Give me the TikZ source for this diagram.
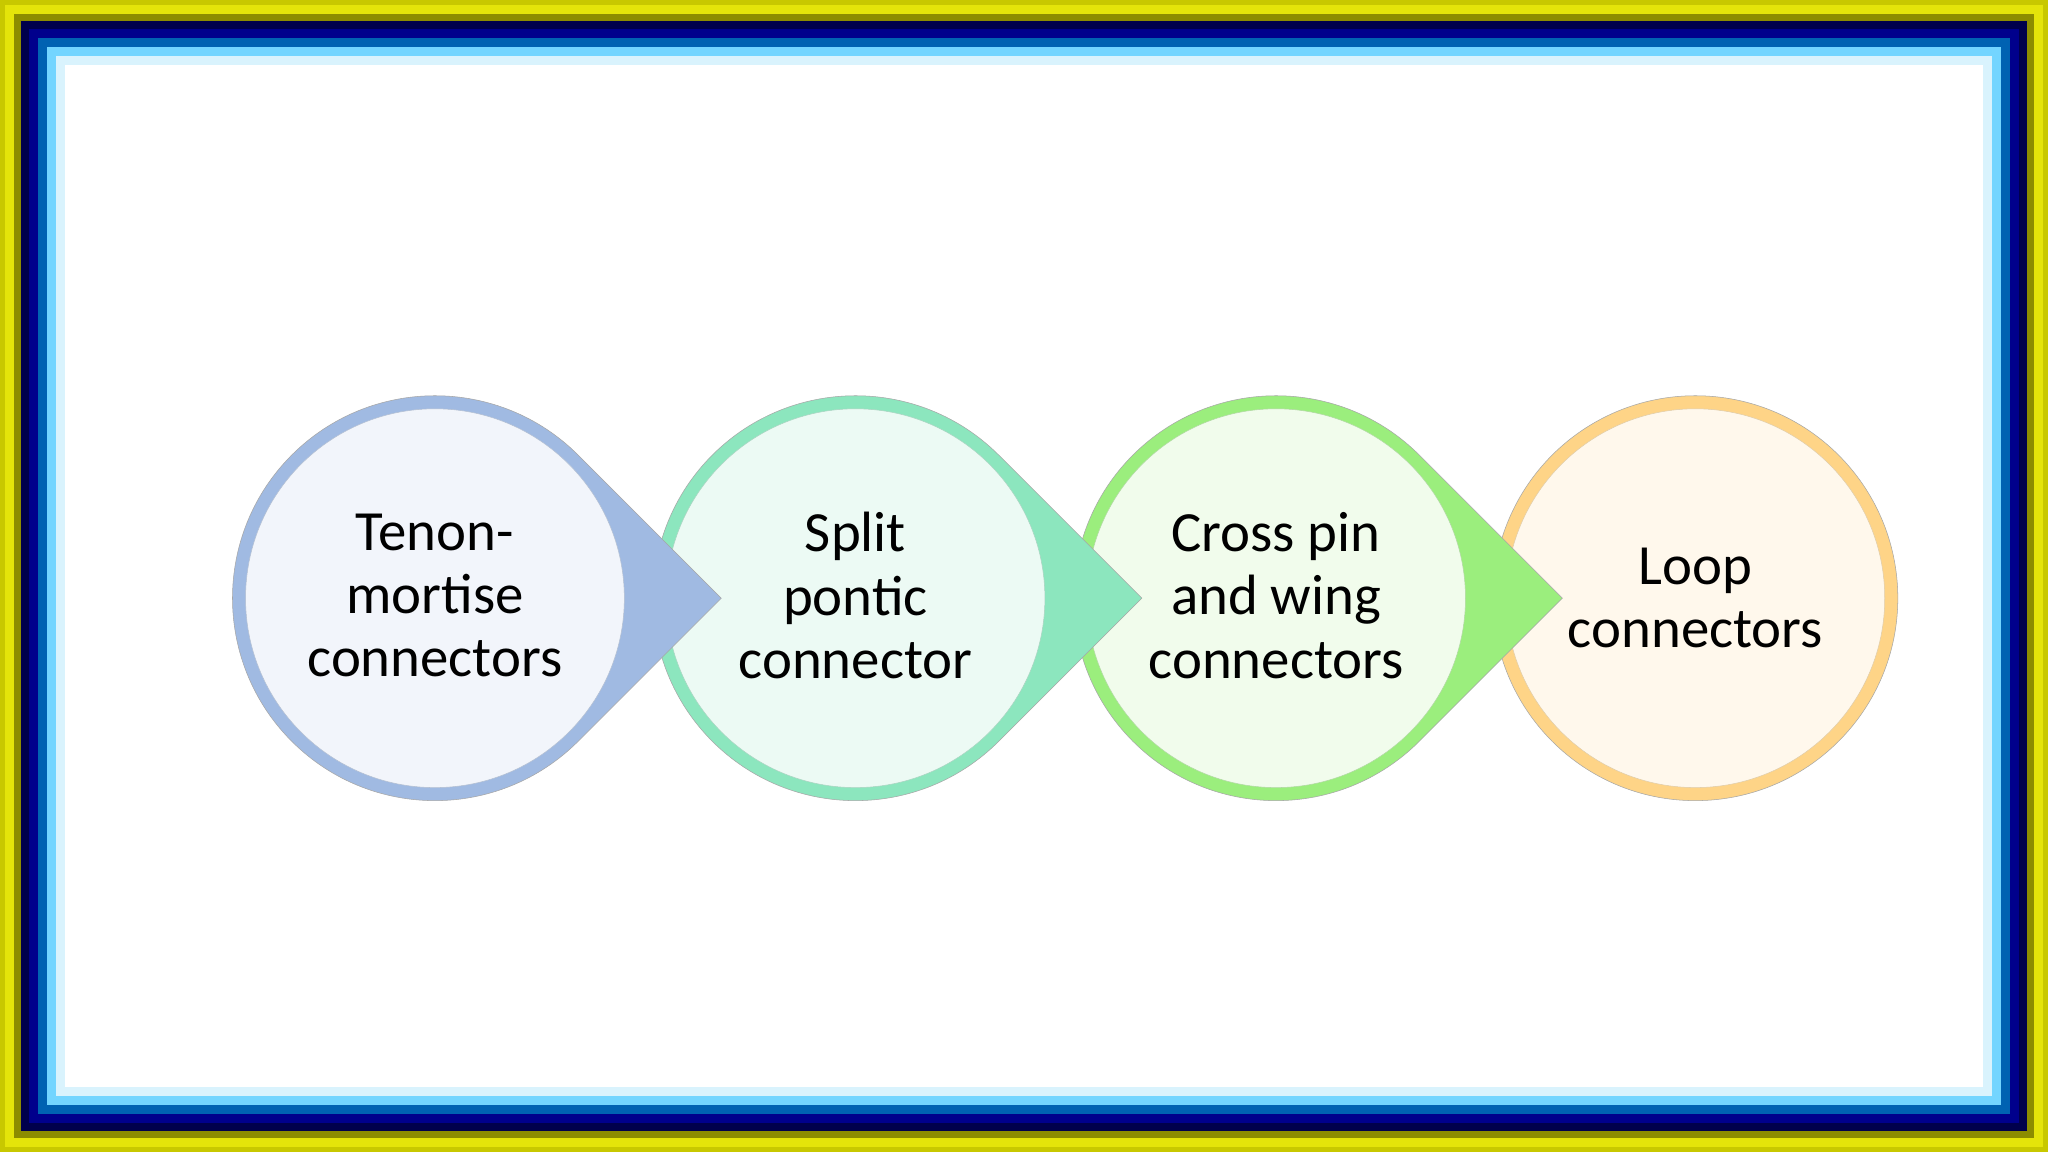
\documentclass[tikz,border=0pt]{standalone}
\usepackage{fontspec}
\setmainfont{Carlito}
\begin{document}
\begin{tikzpicture}[x=1pt,y=1pt,
  lbl/.style={align=center,font=\fontsize{43.5}{48.5}\selectfont,text=black}]
\useasboundingbox (0,0) rectangle (1568,882);
\definecolor{y1}{RGB}{200,200,0}\definecolor{y2}{RGB}{228,228,10}
\fill[y1] (0,0) rectangle (1568,882);
\fill[y2] (4,4) rectangle (1564,878);
\fill[y1!70!black] (11,11) rectangle (1557,871);
\fill[blue!30!black] (16,16) rectangle (1552,866);
\fill[blue!55!black] (22,22) rectangle (1546,860);
\fill[blue!45!cyan!70!black] (29,29) rectangle (1539,853);
\fill[blue!30!cyan!55!white] (36,36) rectangle (1532,846);
\fill[cyan!15!white] (43,43) rectangle (1525,839);
\fill[white] (50,50) rectangle (1518,832);
\definecolor{o1}{RGB}{160,186,226}\definecolor{i1}{RGB}{242,245,251}
\definecolor{o2}{RGB}{140,230,190}\definecolor{i2}{RGB}{236,250,244}
\definecolor{o3}{RGB}{155,238,125}\definecolor{i3}{RGB}{241,252,236}
\definecolor{o4}{RGB}{254,212,135}\definecolor{i4}{RGB}{255,248,236}
\def\R{155}
\filldraw[fill=o4,draw=black!35] (1298,424) circle (\R);
\filldraw[fill=i4,draw=o4!80!black!60] (1298,424) circle (145);
\node[lbl] (d) at (1298,424) {Loop\\connectors};
\foreach \cx/\o/\i in {977/o3/i3, 655/o2/i2, 333/o1/i1}{
  \filldraw[fill=\o,draw=black!35] ({\cx+\R*1.4142},424) -- ({\cx+\R*0.7071},{424+\R*0.7071})
     arc (45:315:\R) -- cycle;
  \filldraw[fill=\i,draw=\o!80!black!60] (\cx,424) circle (145);
}
\node[lbl] (c) at (977,426) {Cross pin\\and wing\\connectors};
\node[lbl] (b) at (655,426) {Split\\pontic\\connector};
\node[lbl] (a) at (333,426) {Tenon-\\mortise\\connectors};
\end{tikzpicture}
\end{document}
